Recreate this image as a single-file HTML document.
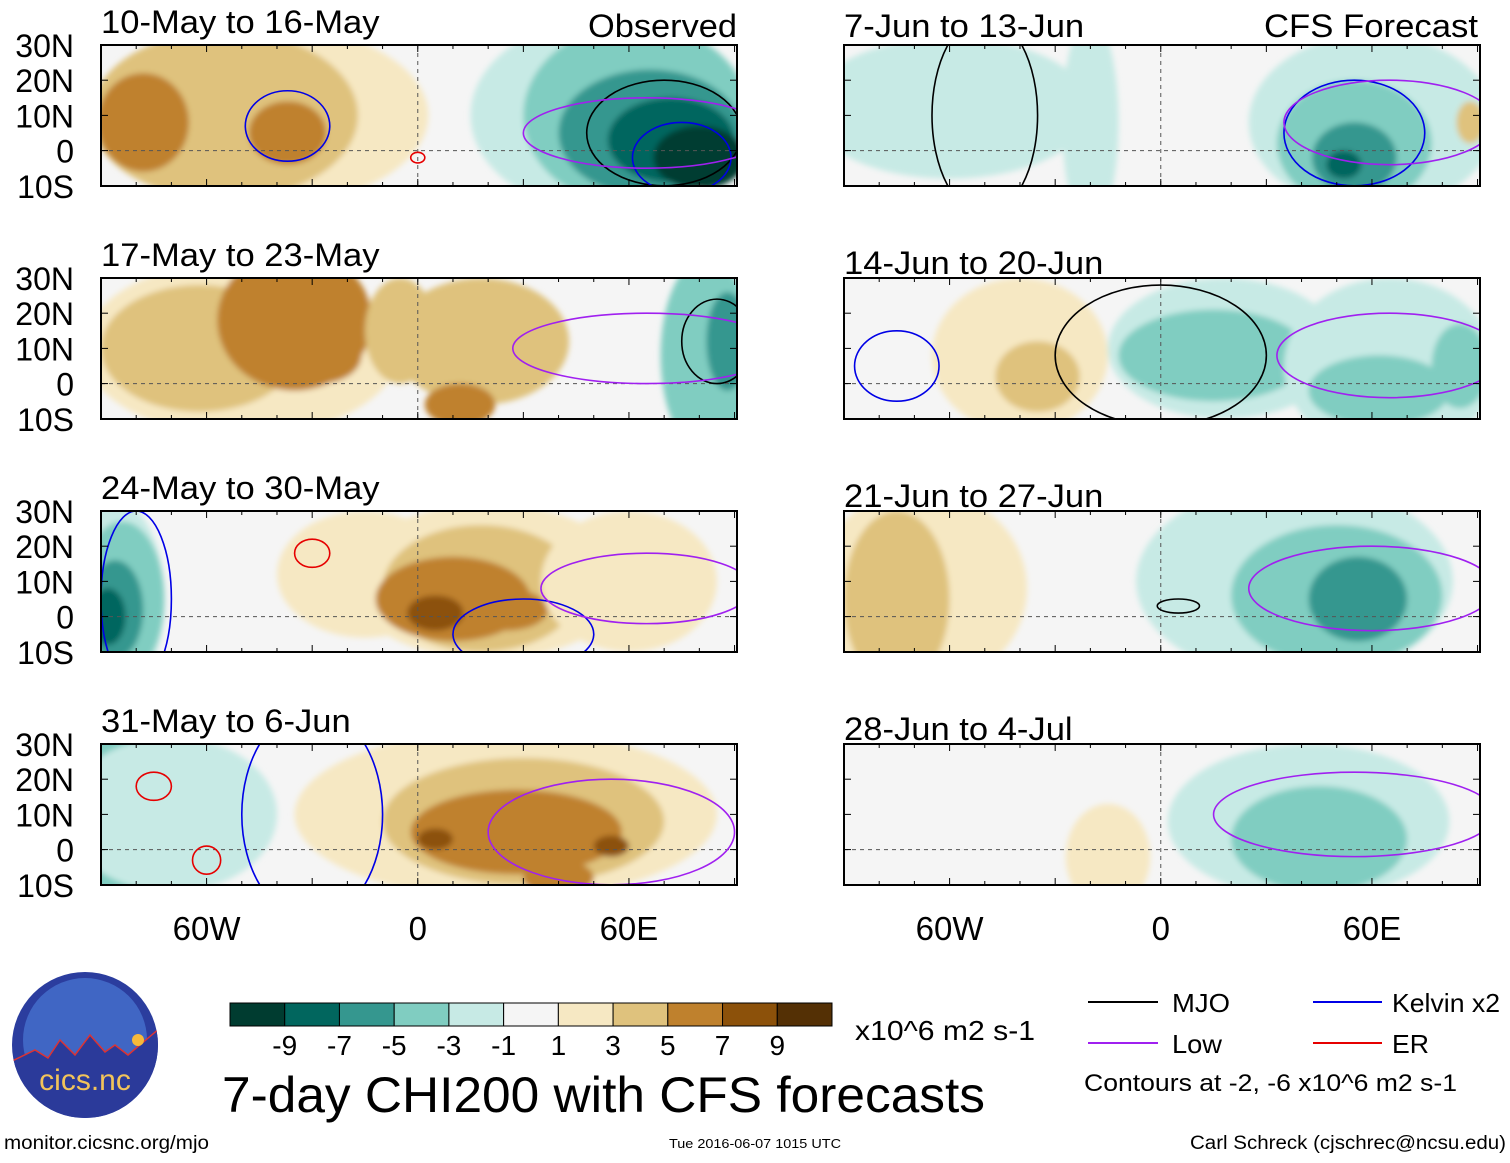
<!DOCTYPE html>
<html><head><meta charset="utf-8">
<style>
body{margin:0;background:#fff;width:1510px;height:1158px;overflow:hidden;font-family:"Liberation Sans",sans-serif;}
svg text{font-family:"Liberation Sans",sans-serif;}
</style></head>
<body>
<svg id="fig" width="1510" height="1158" viewBox="0 0 1510 1158" xmlns="http://www.w3.org/2000/svg">
<defs><filter id="soft" x="-10%" y="-10%" width="120%" height="120%"><feGaussianBlur stdDeviation="3"/></filter>
<clipPath id="logoclip"><circle cx="85" cy="1045" r="73"/></clipPath></defs>
<g id="panels"></g>
<g id="colorbar"></g>
<text x="588" y="37" font-size="32" textLength="149" lengthAdjust="spacingAndGlyphs">Observed</text>
<text x="1264" y="37" font-size="32" textLength="214" lengthAdjust="spacingAndGlyphs">CFS Forecast</text>
<text x="855" y="1040" font-size="28" textLength="180" lengthAdjust="spacingAndGlyphs">x10^6 m2 s-1</text>
<text x="222" y="1112" font-size="50" textLength="763" lengthAdjust="spacingAndGlyphs">7-day CHI200 with CFS forecasts</text>
<text x="4" y="1149" font-size="19" textLength="205" lengthAdjust="spacingAndGlyphs">monitor.cicsnc.org/mjo</text>
<text x="669" y="1148" font-size="13" textLength="172" lengthAdjust="spacingAndGlyphs">Tue 2016-06-07 1015 UTC</text>
<text x="1190" y="1149" font-size="19" textLength="316" lengthAdjust="spacingAndGlyphs">Carl Schreck (cjschrec@ncsu.edu)</text>
<g>
<line x1="1088" y1="1002" x2="1158" y2="1002" stroke="#000" stroke-width="2"/>
<text x="1172" y="1012" font-size="26" textLength="58" lengthAdjust="spacingAndGlyphs">MJO</text>
<line x1="1313" y1="1002" x2="1382" y2="1002" stroke="#0000e6" stroke-width="2"/>
<text x="1392" y="1012" font-size="26" textLength="108" lengthAdjust="spacingAndGlyphs">Kelvin x2</text>
<line x1="1088" y1="1043" x2="1158" y2="1043" stroke="#a020f0" stroke-width="2"/>
<text x="1172" y="1053" font-size="26" textLength="50" lengthAdjust="spacingAndGlyphs">Low</text>
<line x1="1313" y1="1043" x2="1382" y2="1043" stroke="#e60000" stroke-width="2"/>
<text x="1392" y="1053" font-size="26" textLength="37" lengthAdjust="spacingAndGlyphs">ER</text>
<text x="1084" y="1091" font-size="24" textLength="373" lengthAdjust="spacingAndGlyphs">Contours at -2, -6 x10^6 m2 s-1</text>
</g>
<g>
<circle cx="85" cy="1045" r="73" fill="#2b3d9e"/>
<g clip-path="url(#logoclip)">
<circle cx="85" cy="1040" r="62" fill="#4066c4"/>
<path d="M10,1062 L35,1050 L48,1058 L60,1040 L75,1055 L90,1035 L105,1052 L115,1045 L128,1055 L160,1028 L160,1130 L10,1130Z" fill="#2b3a9a"/>
<path d="M10,1062 L35,1050 L48,1058 L60,1040 L75,1055 L90,1035 L105,1052 L115,1045 L128,1055 L160,1028" fill="none" stroke="#d33" stroke-width="1.5"/>
</g>
<circle cx="138" cy="1040" r="6" fill="#f6b93b"/>
<text x="85" y="1090" font-size="30" fill="#f2c45a" text-anchor="middle">cics.nc</text>
</g>
</svg>
<script>
const levelColors=["#003c30","#01665e","#35978f","#80cdc1","#c7eae5","#f5f5f5","#f6e8c3","#dfc27d","#bf812d","#8c510a","#543005"];
const tickLabels=["-9","-7","-5","-3","-1","1","3","5","7","9"];
const latLabels=["30N","20N","10N","0","10S"];
const lonTicks=[-60,0,60];
const lonTickLabels=["60W","0","60E"];
const panelTitles=["10-May to 16-May","17-May to 23-May","24-May to 30-May","31-May to 6-Jun","7-Jun to 13-Jun","14-Jun to 20-Jun","21-Jun to 27-Jun","28-Jun to 4-Jul"];
const blobs0=[[-45,10,48,26,6],[-55,10,38,24,7],[-78,8,13,14,8],[-37,5,11,9,8],[55,10,40,28,4],[62,10,32,26,3],[66,5,26,18,2],[72,3,18,12,1],[80,-2,13,9,0]];
const blobs1=[[-50,10,45,25,6],[-62,10,28,18,7],[-35,18,22,20,8],[-28,8,12,8,8],[18,12,25,18,7],[12,-6,10,6,8],[-5,15,10,15,7],[82,8,13,28,3],[88,12,6,14,2]];
const blobs2=[[-86,5,14,28,4],[-84,5,12,22,3],[-86,2,8,14,2],[-88,0,5,8,1],[-15,12,25,18,6],[20,10,40,22,6],[18,8,28,18,7],[10,5,22,12,8],[5,1,8,5,9],[25,2,12,6,8],[60,10,25,20,6]];
const blobs3=[[-82,10,20,25,3],[-70,10,30,22,4],[25,10,60,24,6],[30,8,40,18,7],[28,5,30,12,8],[5,3,5,3,9],[55,1,5,3,9],[40,-8,10,5,8]];
const blobs4=[[-60,12,40,20,4],[-20,8,8,30,4],[60,8,35,25,4],[55,2,22,18,3],[55,-2,12,10,2],[52,-4,5,4,1],[88,8,4,6,7]];
const blobs5=[[-40,8,25,22,6],[-35,2,12,10,7],[18,10,33,20,4],[15,8,27,13,3],[65,5,30,25,4],[62,-2,20,10,3],[85,5,8,12,3]];
const blobs6=[[-68,8,30,28,6],[-75,5,15,25,7],[38,10,45,28,4],[50,6,30,20,3],[56,5,14,12,2]];
const blobs7=[[-15,-2,12,15,6],[42,8,40,22,4],[45,3,25,15,3]];
const cont0=[[-37,7,12,10,"#0000e6"],[70,5,22,15,"#000"],[75,-2,14,10,"#0000e6"],[65,5,35,10,"#a020f0"],[0,-2,2,1.5,"#e60000"]];
const cont1=[[85,12,10,12,"#000"],[65,10,38,10,"#a020f0"]];
const cont2=[[-80,5,10,25,"#0000e6"],[-30,18,5,4,"#e60000"],[30,-5,20,10,"#0000e6"],[65,8,30,10,"#a020f0"]];
const cont3=[[-75,18,5,4,"#e60000"],[-60,-3,4,4,"#e60000"],[-30,10,20,30,"#0000e6"],[55,5,35,15,"#a020f0"]];
const cont4=[[-50,10,15,28,"#000"],[55,5,20,15,"#0000e6"],[65,8,30,12,"#a020f0"]];
const cont5=[[-75,5,12,10,"#0000e6"],[0,8,30,20,"#000"],[65,8,32,12,"#a020f0"]];
const cont6=[[5,3,6,2,"#000"],[60,8,35,12,"#a020f0"]];
const cont7=[[55,10,40,12,"#a020f0"]];
const allBlobs=[blobs0,blobs1,blobs2,blobs3,blobs4,blobs5,blobs6,blobs7];
const allCont=[cont0,cont1,cont2,cont3,cont4,cont5,cont6,cont7];
const NS="http://www.w3.org/2000/svg";
const PW=636, PH=141, colX=[101,844], rowY=[45,278,511,744];
const sc=PW/180.7;
function mk(t,a){const e=document.createElementNS(NS,t);for(const k in a)e.setAttribute(k,a[k]);return e;}
const panels=document.getElementById('panels');
for(let i=0;i<8;i++){
  const c=i<4?0:1, r=i%4, x0=colX[c], y0=rowY[r];
  const lx=lon=>x0+(lon+90)*sc, ly=lat=>y0+(30-lat)*sc;
  const g=mk('g',{});
  
  
  const cp=mk('clipPath',{id:'cp'+i});cp.appendChild(mk('rect',{x:x0,y:y0,width:PW,height:PH}));g.appendChild(cp);
  const inner=mk('g',{'clip-path':'url(#cp'+i+')'});
  inner.appendChild(mk('rect',{x:x0,y:y0,width:PW,height:PH,fill:levelColors[5]}));
  const fg=mk('g',{filter:'url(#soft)'});
  allBlobs[i].forEach(b=>{
    const e=mk('ellipse',{cx:lx(b[0]),cy:ly(b[1]),rx:b[2]*sc,ry:b[3]*sc,fill:levelColors[b[4]]});
    
    
    fg.appendChild(e);
  });
  inner.appendChild(fg);
  inner.appendChild(mk('line',{x1:x0,y1:ly(0),x2:x0+PW,y2:ly(0),stroke:'#555','stroke-dasharray':'4,4','stroke-width':1}));
  inner.appendChild(mk('line',{x1:lx(0),y1:y0,x2:lx(0),y2:y0+PH,stroke:'#555','stroke-dasharray':'4,4','stroke-width':1}));
  allCont[i].forEach(cn=>{
    const e=mk('ellipse',{cx:lx(cn[0]),cy:ly(cn[1]),rx:cn[2]*sc,ry:cn[3]*sc,fill:'none',stroke:cn[4],'stroke-width':1.6});
    
    
    inner.appendChild(e);
  });
  g.appendChild(inner);
  for(let lon=-90;lon<=90;lon+=10){
    const big=lon%30===0, L=big?7:4;
    g.appendChild(mk('line',{x1:lx(lon),y1:y0,x2:lx(lon),y2:y0+L,stroke:'#000'}));
    g.appendChild(mk('line',{x1:lx(lon),y1:y0+PH,x2:lx(lon),y2:y0+PH-L,stroke:'#000'}));
  }
  for(let lat=-10;lat<=30;lat+=10){
    g.appendChild(mk('line',{x1:x0,y1:ly(lat),x2:x0+7,y2:ly(lat),stroke:'#000'}));
    g.appendChild(mk('line',{x1:x0+PW,y1:ly(lat),x2:x0+PW-7,y2:ly(lat),stroke:'#000'}));
  }
  g.appendChild(mk('rect',{x:x0,y:y0,width:PW,height:PH,fill:'none',stroke:'#000','stroke-width':2}));
  const t=mk('text',{x:x0,y:y0-(i===4?8:(r===0?12:(c===1?4:12))),'font-size':32});
  
  
  t.textContent=panelTitles[i];g.appendChild(t);
  panels.appendChild(g);
  const tl=t.getComputedTextLength();
  t.setAttribute('textLength',tl*1.08);
  t.setAttribute('lengthAdjust','spacingAndGlyphs');
  if(c===0){latLabels.forEach((s,k)=>{
    const tt=mk('text',{x:74,y:y0+k*35.2+12,'font-size':32,'text-anchor':'end'});
    
    
    tt.textContent=s;g.appendChild(tt);});}
  if(r===3){lonTicks.forEach((lon,k)=>{
    const tt=mk('text',{x:lx(lon),y:940,'font-size':33,'text-anchor':'middle'});
    
    
    tt.textContent=lonTickLabels[k];g.appendChild(tt);});}
}
const cb=document.getElementById('colorbar');
const cbx=230, cbw=602/levelColors.length;
levelColors.forEach((col,k)=>{
  const rr=mk('rect',{x:cbx+k*cbw,y:1003,width:cbw,height:23,fill:col,stroke:'#000','stroke-width':1});
  
  
  cb.appendChild(rr);
});
tickLabels.forEach((s,k)=>{
  const tt=mk('text',{x:cbx+(k+1)*cbw,y:1055,'font-size':28,'text-anchor':'middle'});
  
  
  tt.textContent=s;cb.appendChild(tt);
});
</script>
</body></html>
